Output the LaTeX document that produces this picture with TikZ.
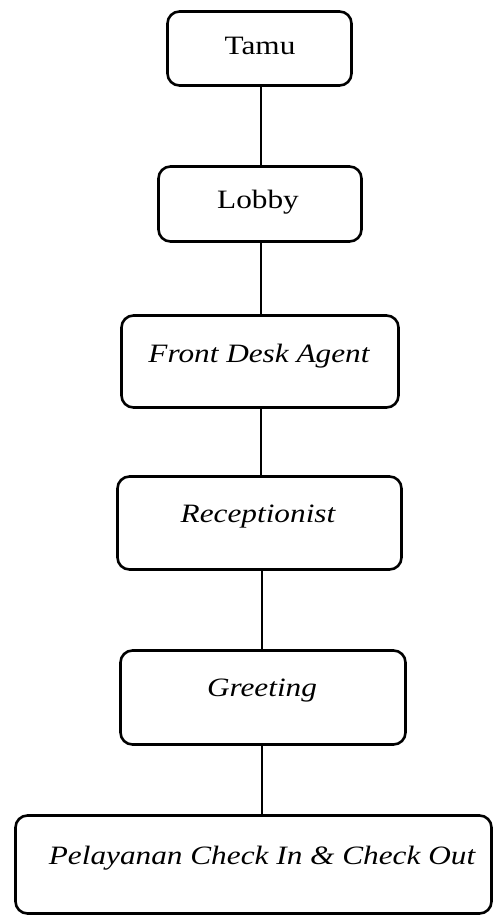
\documentclass[tikz,border=0pt]{standalone}
\usepackage{fontspec}
\setmainfont{Liberation Serif}[FakeStretch=1.18]
\begin{document}
\begin{tikzpicture}[x=1pt,y=-1pt,
  box/.style={draw, line width=2.6pt, rounded corners=12pt, inner sep=0pt},
  conn/.style={line width=1.2pt},
  lbl/.style={font=\fontsize{26.5}{30}\selectfont, inner sep=0pt, anchor=base}]
\useasboundingbox (0,0) rectangle (496,916);
\node[box, minimum width=184pt, minimum height=74pt] (tamu) at (259.5,48.5) {};
\node[box, minimum width=203pt, minimum height=75pt] (lobby) at (260,204) {};
\node[box, minimum width=277pt, minimum height=92pt] (fda) at (260,361.5) {};
\node[box, minimum width=284pt, minimum height=93pt] (rec) at (259.5,523) {};
\node[box, minimum width=285pt, minimum height=94pt] (gre) at (263,697.5) {};
\node[box, minimum width=476pt, minimum height=98pt] (pel) at (253.5,864.5) {};
\node[lbl] (tTamu) at (260,54) {Tamu};
\node[lbl] (tLobby) at (258,208) {Lobby};
\node[lbl] (tFda) at (259,362) {\itshape Front Desk Agent};
\node[lbl] (tRec) at (258,522) {\itshape Receptionist};
\node[lbl] (tGre) at (262,696) {\itshape Greeting};
\node[lbl] (tPel) at (262,864) {\itshape Pelayanan Check In \& Check Out};
\draw[conn] (tamu.south -| 261,0) -- (lobby.north -| 261,0);
\draw[conn] (lobby.south -| 261,0) -- (fda.north -| 261,0);
\draw[conn] (fda.south -| 261,0) -- (rec.north -| 261,0);
\draw[conn] (rec.south -| 262,0) -- (gre.north -| 262,0);
\draw[conn] (gre.south -| 262,0) -- (pel.north -| 262,0);
\end{tikzpicture}
\end{document}
